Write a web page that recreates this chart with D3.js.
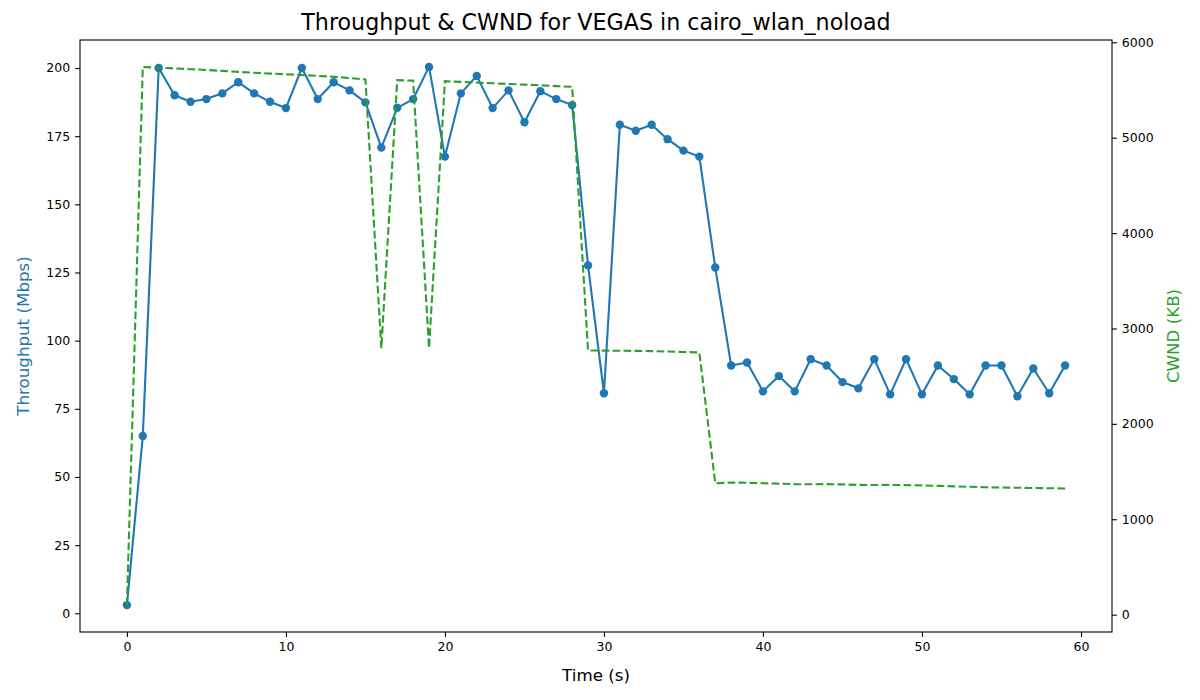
<!DOCTYPE html>
<html>
<head>
<meta charset="utf-8">
<script src="https://cdn.jsdelivr.net/npm/d3@7"></script>
<style>
  body { margin: 0; background: #fff; }
  text { font-family: "DejaVu Sans", sans-serif; }
</style>
</head>
<body>
<svg id="chart" width="1200" height="700"></svg>
<script>
// seconds 0..59
const times = d3.range(0, 60);

// throughput (Mbps) per second
const throughput = [
  3, 65, 200, 190, 187.6, 188.6, 190.7, 194.8, 190.7, 187.6,
  185.3, 200, 188.6, 194.8, 191.8, 187.4, 170.8, 185.4, 188.6, 200.4,
  167.5, 190.7, 197.1, 185.3, 191.8, 180.1, 191.5, 188.6, 186.4, 127.6,
  80.7, 179.2, 177.0, 179.2, 173.9, 169.7, 167.5, 126.8, 90.9, 92.0,
  81.4, 87.0, 81.4, 93.2, 90.9, 84.8, 82.5, 93.2, 80.3, 93.2,
  80.3, 90.9, 85.9, 80.3, 90.9, 90.9, 79.6, 89.8, 80.7, 90.9
];

// congestion window (KB) per second
const cwnd = [
  100, 5742, 5733, 5726, 5718, 5710, 5700, 5690, 5680, 5672,
  5665, 5657, 5648, 5638, 5625, 5610, 2794, 5603, 5598, 2794,
  5592, 5585, 5578, 5570, 5563, 5556, 5549, 5541, 5533, 2770,
  2768, 2766, 2765, 2762, 2758, 2753, 2749, 1377, 1385, 1382,
  1378, 1373, 1368, 1367, 1368, 1365, 1360, 1359, 1360, 1358,
  1355, 1350, 1345, 1340, 1335, 1333, 1330, 1328, 1325, 1323
];

const xTicks = [0, 10, 20, 30, 40, 50, 60];
const yLeftTicks = [0, 25, 50, 75, 100, 125, 150, 175, 200];
const yRightTicks = [0, 1000, 2000, 3000, 4000, 5000, 6000];

const blue = "#1f77b4";
const green = "#2ca02c";

const box = { left: 80, right: 1112, top: 40, bottom: 632 };
const svg = d3.select("#chart");

// matplotlib style 5% padding
function padded(vals) {
  const [lo, hi] = d3.extent(vals);
  const m = (hi - lo) * 0.05;
  return [lo - m, hi + m];
}

const x = d3.scaleLinear().domain(padded(times)).range([box.left, box.right]);
const yL = d3.scaleLinear().domain(padded(throughput)).range([box.bottom, box.top]);
const yR = d3.scaleLinear().domain(padded(cwnd)).range([box.bottom, box.top]);

const tickSize = 4.9;
const tickPad = 4.9;

// axes
const xAxis = svg.append("g")
  .attr("transform", `translate(0,${box.bottom})`)
  .call(d3.axisBottom(x).tickValues(xTicks).tickSize(tickSize).tickPadding(tickPad).tickFormat(d3.format("d")));

const leftAxis = svg.append("g")
  .attr("transform", `translate(${box.left},0)`)
  .call(d3.axisLeft(yL).tickValues(yLeftTicks).tickSize(tickSize).tickPadding(tickPad).tickFormat(d3.format("d")));

const rightAxis = svg.append("g")
  .attr("transform", `translate(${box.right},0)`)
  .call(d3.axisRight(yR).tickValues(yRightTicks).tickSize(tickSize).tickPadding(tickPad).tickFormat(d3.format("d")));

[xAxis, leftAxis, rightAxis].forEach(g => {
  g.select(".domain").remove();
  g.selectAll(".tick line").attr("stroke", "#000").attr("stroke-width", 1.1);
  g.selectAll(".tick text").attr("fill", "#000").style("font-size", "12.5px")
    .style("font-family", "DejaVu Sans, sans-serif");
});

// frame
svg.append("rect")
  .attr("x", box.left).attr("y", box.top)
  .attr("width", box.right - box.left).attr("height", box.bottom - box.top)
  .attr("fill", "none").attr("stroke", "#000").attr("stroke-width", 1.1);

// throughput line + markers
const line = d3.line().x((d, i) => x(times[i])).y(d => yL(d));

svg.append("path")
  .datum(throughput)
  .attr("d", line)
  .attr("fill", "none")
  .attr("stroke", blue)
  .attr("stroke-width", 2.1)
  .attr("stroke-linejoin", "round");

svg.append("g").selectAll("circle")
  .data(throughput)
  .join("circle")
  .attr("cx", (d, i) => x(times[i]))
  .attr("cy", d => yL(d))
  .attr("r", 4.2)
  .attr("fill", blue);

// cwnd dashed line on twin axis
const cwndLine = d3.line().x((d, i) => x(times[i])).y(d => yR(d));

svg.append("path")
  .datum(cwnd)
  .attr("d", cwndLine)
  .attr("fill", "none")
  .attr("stroke", green)
  .attr("stroke-width", 2.1)
  .attr("stroke-dasharray", "7.7,3.3");

// labels
svg.append("text")
  .attr("x", (box.left + box.right) / 2)
  .attr("y", 30)
  .attr("text-anchor", "middle")
  .style("font-size", "22.2px")
  .text("Throughput & CWND for VEGAS in cairo_wlan_noload");

svg.append("text")
  .attr("x", (box.left + box.right) / 2)
  .attr("y", 681)
  .attr("text-anchor", "middle")
  .style("font-size", "16.7px")
  .text("Time (s)");

svg.append("text")
  .attr("transform", `translate(29,${(box.top + box.bottom) / 2}) rotate(-90)`)
  .attr("text-anchor", "middle")
  .attr("fill", blue)
  .style("font-size", "16.7px")
  .text("Throughput (Mbps)");

svg.append("text")
  .attr("transform", `translate(1179,${(box.top + box.bottom) / 2}) rotate(-90)`)
  .attr("text-anchor", "middle")
  .attr("fill", green)
  .style("font-size", "16.7px")
  .text("CWND (KB)");
</script>
</body>
</html>
